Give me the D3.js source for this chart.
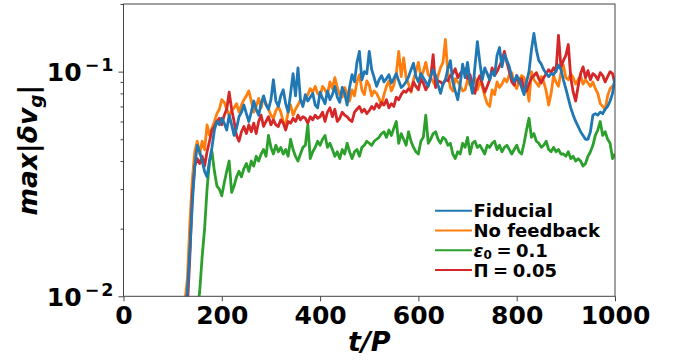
<!DOCTYPE html>
<html>
<head>
<meta charset="utf-8">
<script src="https://cdn.jsdelivr.net/npm/d3@7"></script>
<style>
  html, body { margin: 0; padding: 0; background: #fff; }
  svg { display: block; }
  text { font-family: "DejaVu Sans", sans-serif; font-weight: bold; fill: #000; }
</style>
</head>
<body>
<svg id="chart" width="686" height="362"></svg>
<script>
// ---- data (sampled every tStep in t/P) ----
const tStep = 5;
const xTicks = [0, 200, 400, 600, 800, 1000];
const yMajorTicks = [0.01, 0.1];
const yMajorExp = ["\u22122", "\u22121"];
const yMinorTicks = [0.02, 0.03, 0.04, 0.05, 0.06, 0.07, 0.08, 0.09, 0.2];

const fiducialT0 = 125;
const fiducial = [
  0.008,0.0105,0.016,0.026,0.038,0.047,0.044,0.040,0.036,0.034,
  0.040,0.046,0.055,0.060,0.058,0.062,0.059,0.055,0.064,0.058,
  0.052,0.056,0.063,0.066,0.071,0.065,0.060,0.066,0.074,0.068,
  0.064,0.072,0.078,0.071,0.068,0.075,0.092,0.074,0.070,0.078,
  0.083,0.072,0.066,0.080,0.098,0.078,0.104,0.075,0.070,0.079,
  0.074,0.077,0.080,0.071,0.069,0.081,0.076,0.072,0.082,0.075,
  0.079,0.086,0.077,0.073,0.085,0.080,0.071,0.085,0.097,0.090,
  0.110,0.123,0.092,0.100,0.098,0.123,0.102,0.094,0.086,0.092,
  0.096,0.090,0.093,0.097,0.089,0.093,0.098,0.091,0.085,0.087,
  0.090,0.095,0.102,0.109,0.095,0.090,0.098,0.094,0.090,0.086,
  0.095,0.102,0.096,0.087,0.080,0.088,0.092,0.103,0.112,0.090,
  0.082,0.075,0.088,0.108,0.094,0.110,0.090,0.080,0.105,0.136,
  0.110,0.092,0.104,0.098,0.092,0.100,0.096,0.118,0.128,0.105,
  0.119,0.112,0.105,0.094,0.090,0.096,0.092,0.085,0.079,0.090,
  0.100,0.125,0.148,0.125,0.112,0.108,0.102,0.098,0.095,0.098,
  0.097,0.101,0.107,0.102,0.092,0.084,0.076,0.069,0.064,0.060,
  0.057,0.054,0.052,0.050,0.050,0.054,0.064,0.065,0.064,0.066,
  0.065,0.068,0.070,0.074,0.080,0.094
];

const noFeedbackT0 = 125;
const noFeedback = [
  0.0095,0.012,0.021,0.033,0.044,0.049,0.043,0.049,0.045,0.058,
  0.052,0.056,0.060,0.065,0.068,0.075,0.073,0.068,0.064,0.067,
  0.069,0.072,0.066,0.071,0.075,0.078,0.082,0.074,0.066,0.070,
  0.076,0.069,0.077,0.072,0.068,0.064,0.062,0.067,0.070,0.066,
  0.060,0.058,0.066,0.071,0.064,0.068,0.071,0.075,0.072,0.076,
  0.079,0.084,0.081,0.086,0.080,0.078,0.086,0.083,0.079,0.090,
  0.084,0.094,0.085,0.079,0.077,0.085,0.080,0.074,0.083,0.078,
  0.090,0.097,0.083,0.079,0.091,0.087,0.078,0.082,0.080,0.076,
  0.071,0.079,0.086,0.091,0.082,0.087,0.098,0.123,0.095,0.115,
  0.094,0.088,0.081,0.092,0.100,0.110,0.095,0.100,0.110,0.097,
  0.094,0.090,0.086,0.096,0.104,0.110,0.139,0.098,0.085,0.082,
  0.093,0.090,0.087,0.082,0.083,0.092,0.087,0.089,0.094,0.083,
  0.090,0.086,0.078,0.072,0.070,0.083,0.079,0.090,0.085,0.088,
  0.093,0.090,0.097,0.099,0.088,0.084,0.091,0.096,0.094,0.086,
  0.074,0.100,0.092,0.089,0.086,0.095,0.090,0.082,0.071,0.080,
  0.096,0.090,0.086,0.099,0.107,0.094,0.092,0.098,0.094,0.088,
  0.092,0.096,0.088,0.092,0.089,0.086,0.090,0.084,0.080,0.072,
  0.070,0.068,0.078,0.084,0.086,0.089
];

const eps01T0 = 150;
const eps01 = [
  0.0085,0.0105,0.015,0.020,0.030,0.040,0.044,0.036,0.031,0.030,
  0.028,0.032,0.036,0.040,0.029,0.031,0.034,0.036,0.034,0.037,
  0.039,0.036,0.040,0.038,0.042,0.040,0.043,0.045,0.042,0.052,
  0.046,0.043,0.047,0.044,0.046,0.043,0.045,0.042,0.050,0.045,
  0.042,0.040,0.043,0.046,0.047,0.058,0.041,0.044,0.046,0.049,
  0.047,0.050,0.052,0.046,0.048,0.045,0.042,0.044,0.041,0.045,
  0.043,0.048,0.044,0.041,0.044,0.045,0.042,0.046,0.047,0.049,
  0.048,0.047,0.049,0.050,0.051,0.053,0.054,0.051,0.055,0.052,
  0.056,0.060,0.048,0.053,0.050,0.047,0.054,0.049,0.046,0.044,
  0.043,0.049,0.051,0.064,0.048,0.050,0.053,0.054,0.050,0.048,
  0.051,0.050,0.047,0.048,0.043,0.041,0.044,0.043,0.048,0.046,
  0.051,0.043,0.048,0.049,0.046,0.047,0.045,0.043,0.047,0.046,
  0.048,0.049,0.045,0.047,0.044,0.046,0.047,0.045,0.043,0.045,
  0.047,0.044,0.043,0.048,0.055,0.062,0.051,0.053,0.049,0.048,
  0.046,0.047,0.049,0.045,0.044,0.046,0.044,0.045,0.043,0.043,
  0.042,0.044,0.041,0.042,0.040,0.041,0.040,0.038,0.039,0.042,
  0.044,0.047,0.052,0.055,0.060,0.052,0.054,0.050,0.048,0.041,
  0.043
];

const pi005T0 = 130;
const pi005 = [
  0.009,0.015,0.028,0.038,0.041,0.039,0.042,0.038,0.044,0.049,
  0.055,0.057,0.060,0.062,0.058,0.064,0.068,0.081,0.068,0.060,
  0.052,0.049,0.054,0.057,0.053,0.058,0.054,0.059,0.053,0.060,
  0.064,0.057,0.060,0.063,0.058,0.061,0.058,0.057,0.061,0.059,
  0.055,0.060,0.059,0.062,0.060,0.064,0.061,0.063,0.062,0.059,
  0.063,0.061,0.064,0.062,0.063,0.066,0.060,0.066,0.069,0.063,
  0.068,0.060,0.062,0.066,0.064,0.063,0.061,0.060,0.066,0.068,
  0.070,0.066,0.068,0.065,0.067,0.070,0.068,0.072,0.069,0.073,
  0.071,0.075,0.069,0.072,0.070,0.077,0.075,0.079,0.082,0.081,
  0.084,0.082,0.090,0.086,0.083,0.093,0.089,0.083,0.087,0.094,
  0.119,0.085,0.091,0.090,0.088,0.092,0.091,0.096,0.098,0.103,
  0.094,0.098,0.101,0.103,0.093,0.097,0.087,0.080,0.091,0.096,
  0.088,0.081,0.086,0.092,0.104,0.096,0.100,0.106,0.112,0.123,
  0.110,0.100,0.090,0.087,0.096,0.089,0.093,0.084,0.082,0.088,
  0.094,0.096,0.099,0.093,0.089,0.094,0.098,0.102,0.099,0.104,
  0.100,0.145,0.105,0.112,0.118,0.132,0.094,0.081,0.074,0.086,
  0.098,0.105,0.094,0.101,0.092,0.098,0.096,0.092,0.099,0.096,
  0.090,0.095,0.100,0.098,0.088
];

const seriesNames = ["Fiducial", "No feedback", "eps", "pi"];
const seriesColors = ["#1f77b4", "#ff7f0e", "#2ca02c", "#d62728"];

// ---- chart ----
const svg = d3.select("#chart");
const L = 123.5, R = 615, T = 4, B = 296.3;
const x = d3.scaleLinear().domain([0, 1000]).range([L, R]);
const y = d3.scaleLog().domain([0.01, 0.2]).range([B, T]);

svg.append("defs").append("clipPath").attr("id", "clip")
  .append("rect").attr("x", L).attr("y", T).attr("width", R - L).attr("height", B - T);

const toPts = (vals, t0) => vals.map((v, i) => [t0 + i * tStep, v]);
const series = [
  { pts: toPts(fiducial, fiducialT0), color: seriesColors[0] },
  { pts: toPts(noFeedback, noFeedbackT0), color: seriesColors[1] },
  { pts: toPts(eps01, eps01T0), color: seriesColors[2] },
  { pts: toPts(pi005, pi005T0), color: seriesColors[3] }
];
const line = d3.line().x(d => x(d[0])).y(d => y(d[1]));

const drawOrder = [1, 2, 3, 0];
const g = svg.append("g").attr("clip-path", "url(#clip)");
drawOrder.forEach(k => {
  g.append("path").attr("d", line(series[k].pts))
    .attr("fill", "none").attr("stroke", series[k].color)
    .attr("stroke-width", 2.8).attr("stroke-linejoin", "round").attr("stroke-linecap", "butt");
});

// frame
svg.append("rect").attr("x", L).attr("y", T).attr("width", R - L).attr("height", B - T)
  .attr("fill", "none").attr("stroke", "#444").attr("stroke-width", 1);

// x axis
const xAxis = svg.append("g").attr("transform", `translate(0,${B})`)
  .call(d3.axisBottom(x).tickValues(xTicks).tickSize(5).tickPadding(5).tickFormat(d3.format("d")));
xAxis.select(".domain").remove();
xAxis.selectAll(".tick line").attr("stroke", "#444");
xAxis.selectAll(".tick text").style("font-size", "25px").style("font-family", "DejaVu Sans").style("font-weight", "bold").attr("fill", "#000");

// y axis major
const yAxis = svg.append("g").attr("transform", `translate(${L},0)`)
  .call(d3.axisLeft(y).tickValues(yMajorTicks).tickSize(5).tickFormat(""));
yAxis.select(".domain").remove();
yAxis.selectAll(".tick line").attr("stroke", "#444");
// y minor
const yMinor = svg.append("g").attr("transform", `translate(${L},0)`)
  .call(d3.axisLeft(y).tickValues(yMinorTicks).tickSize(3).tickFormat(""));
yMinor.select(".domain").remove();
yMinor.selectAll(".tick line").attr("stroke", "#444");

// y tick labels 10^{-n}
yMajorTicks.forEach((v, i) => {
  const t = svg.append("text").attr("x", L - 8).attr("y", y(v) + 9.5)
    .attr("text-anchor", "end").style("font-size", "25px");
  t.append("tspan").text("10");
  t.append("tspan").text(yMajorExp[i]).attr("dx", 3).attr("dy", -10)
    .style("font-size", "17.5px").style("letter-spacing", "2px");
});

// axis labels
const xl = svg.append("text").attr("x", (L + R) / 2).attr("y", 351).attr("text-anchor", "middle")
  .style("font-size", "27px").style("font-style", "italic");
xl.text("t/P");

const yl = svg.append("text").attr("transform", `translate(37,${(T + B) / 2}) rotate(-90)`)
  .attr("text-anchor", "middle").style("font-size", "26.5px").style("font-style", "italic");
yl.append("tspan").text("max|\u03b4v");
yl.append("tspan").text("g").attr("dy", 5).style("font-size", "18.5px");
yl.append("tspan").text("|").attr("dy", -5);

// legend
const legX = 435, legY0 = 210.7, legDY = 19.8;
const legendLabels = [
  t => t.append("tspan").text("Fiducial"),
  t => t.append("tspan").text("No feedback"),
  t => { t.append("tspan").text("\u03b5").style("font-style", "italic");
         t.append("tspan").text("0").attr("dy", 2.5).style("font-size", "12px");
         t.append("tspan").text("\u2005=\u20050.1").attr("dy", -2.5); },
  t => t.append("tspan").text("\u03a0\u2005=\u20050.05")
];
seriesColors.forEach((c, i) => {
  const yy = legY0 + i * legDY;
  svg.append("line").attr("x1", legX).attr("x2", legX + 37).attr("y1", yy).attr("y2", yy)
    .attr("stroke", c).attr("stroke-width", 2);
  const t = svg.append("text").attr("x", legX + 38.5).attr("y", yy + 6.5).style("font-size", "18px");
  legendLabels[i](t);
});
</script>
</body>
</html>
